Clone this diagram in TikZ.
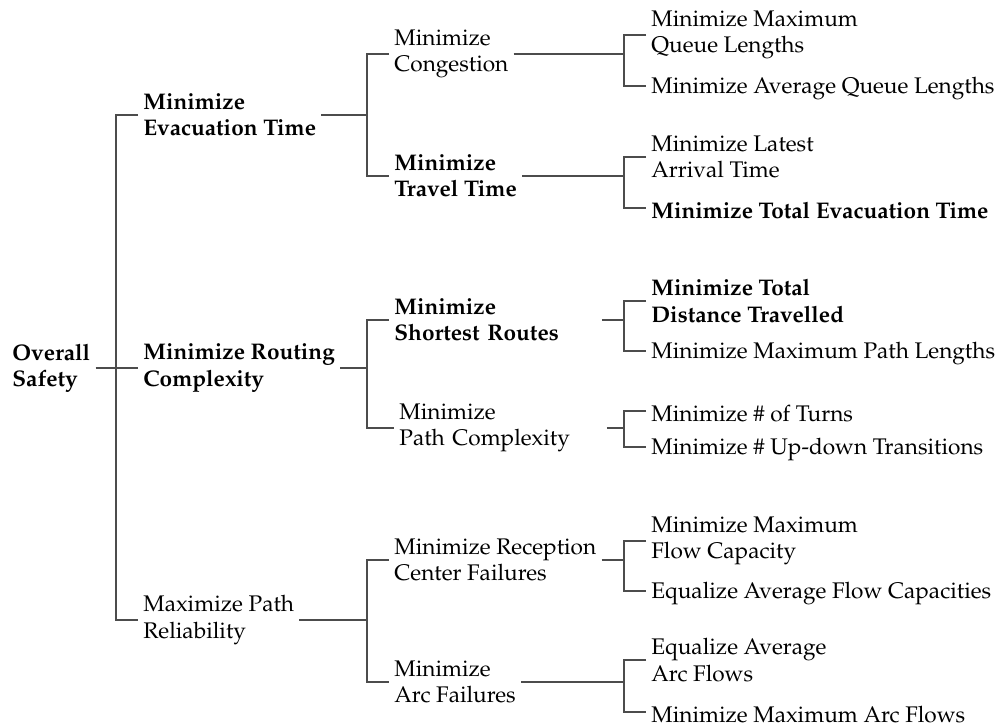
\documentclass[tikz,border=0pt]{standalone}
\usepackage[T1]{fontenc}
\usepackage{mathpazo}

\begin{document}
\begin{tikzpicture}[
        x=0.5pt, y=-0.5pt,
        goal/.style={anchor=west, align=left, inner xsep=2.5pt, inner ysep=0pt,
            font=\fontsize{11.3}{13.2}\selectfont},
        key/.style={goal, font=\fontsize{11.3}{13.2}\selectfont\bfseries},
        one/.style={text height=10.5pt},
        wide/.style={text width=101pt},
        link/.style={draw=black!70, line width=0.55pt},
    ]
        \path[fill=white, use as bounding box] (0,0) rectangle (996,726);

        % bracket columns
        \coordinate (col1) at (116,0);
        \coordinate (col2) at (367,0);
        \coordinate (col3) at (624,0);

        % root and first level
        \node[key] (safety) at (7,368) {Overall\\Safety};
        \node[key] (evac) at (138,115) {Minimize\\Evacuation Time};
        \node[key] (routing) at (138,368) {Minimize Routing\\Complexity};
        \node[goal] (reliab) at (138,620) {Maximize Path\\Reliability};

        % second level
        \node[goal] (congest) at (389,54) {Minimize\\Congestion};
        \node[key] (travel) at (389,176) {Minimize\\Travel Time};
        \node[key, wide] (shortest) at (389,320) {Minimize\\Shortest Routes};
        \node[goal, wide] (pathcx) at (394,428) {Minimize\\Path Complexity};
        \node[goal] (reception) at (389,560) {Minimize Reception\\Center Failures};
        \node[goal] (arcfail) at (389,682) {Minimize\\Arc Failures};

        % third level
        \node[goal] (maxqueue) at (646,35) {Minimize Maximum\\Queue Lengths};
        \node[goal, one] (avgqueue) at (646,86) {Minimize Average Queue Lengths};
        \node[goal] (latest) at (646,157) {Minimize Latest\\Arrival Time};
        \node[key, one] (totalevac) at (646,208) {Minimize Total Evacuation Time};
        \node[key] (totaldist) at (646,301) {Minimize Total\\Distance Travelled};
        \node[goal, one] (maxpath) at (646,351) {Minimize Maximum Path Lengths};
        \node[goal, one] (turns) at (646,411) {Minimize \# of Turns};
        \node[goal, one] (updown) at (646,447) {Minimize \# Up-down Transitions};
        \node[goal] (maxflow) at (646,541) {Minimize Maximum\\Flow Capacity};
        \node[goal, one] (eqflow) at (646,591) {Equalize Average Flow Capacities};
        \node[goal] (eqarc) at (646,660) {Equalize Average\\Arc Flows};
        \node[goal, one] (maxarc) at (646,712) {Minimize Maximum Arc Flows};

        % root bracket
        \draw[link] (safety) -- (routing);
        \draw[link] (evac.west) -| (reliab.west -| col1) -- (reliab.west);

        % two-way brackets
        \foreach \p/\a/\b/\c in {evac/congest/travel/col2,
                routing/shortest/pathcx/col2, reliab/reception/arcfail/col2,
                congest/maxqueue/avgqueue/col3, travel/latest/totalevac/col3,
                shortest/totaldist/maxpath/col3, pathcx/turns/updown/col3,
                reception/maxflow/eqflow/col3, arcfail/eqarc/maxarc/col3} {
            \draw[link] (\p.east) -- (\p.east -| \c);
            \draw[link] (\a.west) -| (\b.west -| \c) -- (\b.west);
        }
    \end{tikzpicture}
\end{document}
